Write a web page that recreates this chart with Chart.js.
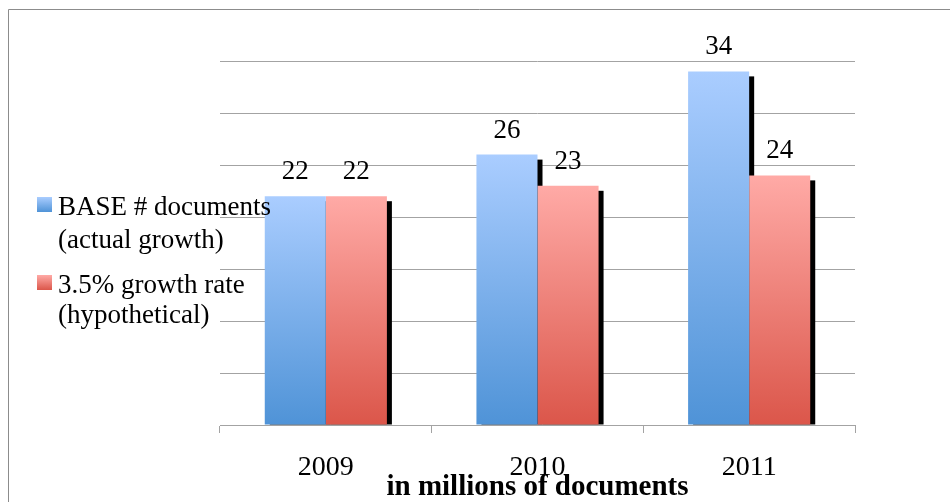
<!DOCTYPE html>
<html>
<head>
<meta charset="utf-8">
<title>BASE documents growth</title>
<script src="https://cdn.jsdelivr.net/npm/chart.js@4.4.0/dist/chart.umd.min.js"></script>
<style>
    body { margin: 0; background: #fff; }
    #wrap { width: 950px; height: 502px; }
</style>
</head>
<body>
<div id="wrap"><canvas id="docs-chart" width="950" height="502"></canvas></div>
<script>
// chart data
const years = ['2009', '2010', '2011'];
const actualDocs = [22, 26, 34];
const hypotheticalDocs = [22, 23, 24];
const seriesNames = [
    ['BASE # documents', '(actual growth)'],
    ['3.5% growth rate', '(hypothetical)']
];
const axisTitle = 'in millions of documents';

const FONT = '"Liberation Serif", "Times New Roman", serif';
const GRID = '#a3a3a3';

const palette = [
    { light: '#aacdff', dark: '#4f93d7' },
    { light: '#ffaaa6', dark: '#db564a' }
];

// vertical gradient from the bar top down to the zero line
function gradientFill(light, dark) {
    return function (context) {
        const chart = context.chart;
        if (!chart.chartArea || context.type !== 'data') {
            return dark;
        }
        const yScale = chart.scales.y;
        const top = yScale.getPixelForValue(context.raw);
        const bottom = yScale.getPixelForValue(0);
        const g = chart.ctx.createLinearGradient(0, top, 0, bottom);
        g.addColorStop(0, light);
        g.addColorStop(1, dark);
        return g;
    };
}

// black drop shadow behind every bar
const barShadow = {
    id: 'barShadow',
    beforeDatasetsDraw(chart) {
        const ctx = chart.ctx;
        ctx.save();
        ctx.fillStyle = '#000';
        chart.data.datasets.forEach((ds, i) => {
            chart.getDatasetMeta(i).data.forEach(bar => {
                const p = bar.getProps(['x', 'y', 'base', 'width'], true);
                ctx.fillRect(p.x - p.width / 2 + 5, p.y + 5, p.width, p.base - p.y - 5);
            });
        });
        ctx.restore();
    }
};

// value above each bar
const valueLabels = {
    id: 'valueLabels',
    afterDatasetsDraw(chart) {
        const ctx = chart.ctx;
        ctx.save();
        ctx.font = '27px ' + FONT;
        ctx.fillStyle = '#000';
        ctx.textAlign = 'center';
        ctx.textBaseline = 'alphabetic';
        chart.data.datasets.forEach((ds, i) => {
            chart.getDatasetMeta(i).data.forEach((bar, j) => {
                ctx.fillText(String(ds.data[j]), bar.x, bar.y - 17);
            });
        });
        ctx.restore();
    }
};

// two-line legend on the left, drawn over the plot
const sideLegend = {
    id: 'sideLegend',
    afterDatasetsDraw(chart) {
        const ctx = chart.ctx;
        const boxes = [197, 275];
        const baselines = [[215, 248], [293, 323]];
        ctx.save();
        seriesNames.forEach((lines, i) => {
            const y = boxes[i];
            const g = ctx.createLinearGradient(0, y, 0, y + 15);
            g.addColorStop(0, palette[i].light);
            g.addColorStop(1, palette[i].dark);
            ctx.fillStyle = g;
            ctx.fillRect(37, y, 15, 15);
            ctx.fillStyle = '#000';
            ctx.font = '27px ' + FONT;
            ctx.textAlign = 'left';
            ctx.textBaseline = 'alphabetic';
            lines.forEach((t, k) => ctx.fillText(t, 58, baselines[i][k]));
        });
        ctx.restore();
    }
};

// thin frame along the top and left edges
const frame = {
    id: 'frame',
    afterDraw(chart) {
        const ctx = chart.ctx;
        ctx.save();
        ctx.strokeStyle = '#8c8c8c';
        ctx.lineWidth = 1;
        ctx.beginPath();
        ctx.moveTo(8.5, chart.height);
        ctx.lineTo(8.5, 9.5);
        ctx.lineTo(chart.width, 9.5);
        ctx.stroke();
        ctx.restore();
    }
};

const ctx = document.getElementById('docs-chart').getContext('2d');

new Chart(ctx, {
    type: 'bar',
    data: {
        labels: years,
        datasets: [{
            label: seriesNames[0].join(' '),
            data: actualDocs,
            backgroundColor: gradientFill(palette[0].light, palette[0].dark),
            borderWidth: 0
        }, {
            label: seriesNames[1].join(' '),
            data: hypotheticalDocs,
            backgroundColor: gradientFill(palette[1].light, palette[1].dark),
            borderWidth: 0
        }]
    },
    options: {
        responsive: false,
        animation: false,
        layout: { padding: { left: 220, right: 95, top: 61, bottom: 0 } },
        datasets: {
            bar: { barPercentage: 1, categoryPercentage: 0.577 }
        },
        plugins: {
            legend: { display: false },
            tooltip: { enabled: false }
        },
        scales: {
            x: {
                grid: { display: true, drawOnChartArea: false, tickLength: 8, color: GRID, offset: true },
                border: { display: true, color: GRID },
                ticks: {
                    color: '#000',
                    padding: 18,
                    font: { family: FONT, size: 28 }
                },
                title: {
                    display: true,
                    text: axisTitle,
                    color: '#000',
                    padding: 0,
                    font: { family: FONT, size: 29, weight: 'bold', lineHeight: 1.0 }
                },
                afterFit(scale) { scale.height = 77; }
            },
            y: {
                min: 0,
                max: 35,
                ticks: { display: false, stepSize: 5 },
                grid: { color: GRID, drawTicks: false },
                border: { display: false },
                afterFit(scale) { scale.width = 0; }
            }
        }
    },
    plugins: [barShadow, valueLabels, sideLegend, frame]
});
</script>
</body>
</html>
